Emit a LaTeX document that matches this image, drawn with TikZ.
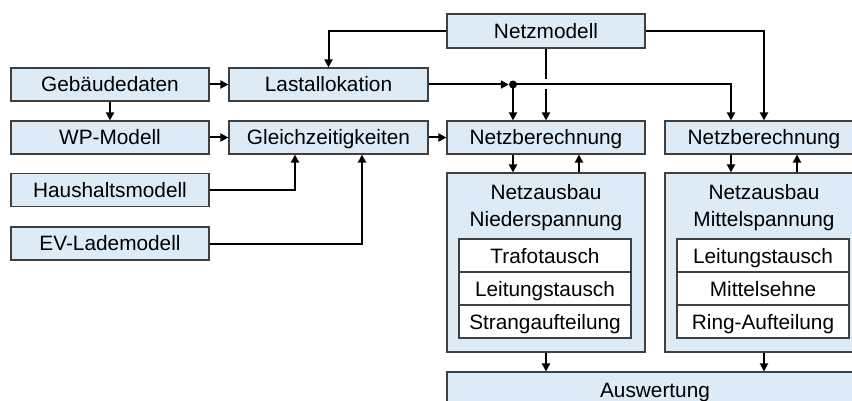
\documentclass[tikz,border=0pt]{standalone}
\usepackage{fontspec}
\setmainfont{Liberation Sans}
\usetikzlibrary{arrows.meta}
\definecolor{boxfill}{HTML}{DDEBF7}
\definecolor{boxline}{HTML}{404040}
\tikzset{
  txt/.style={font=\fontsize{20.8}{24}\selectfont, text height=18pt, text depth=3pt},
  blk/.style={txt, draw=boxline, line width=1.2pt, fill=boxfill, rectangle, inner sep=0pt,
    minimum width=198pt, minimum height=33pt},
  inbox/.style={txt, draw=boxline, line width=1.2pt, fill=white, rectangle, inner sep=0pt,
    minimum width=172pt, minimum height=33pt},
  ttl/.style={txt, inner sep=0pt},
  arr/.style={line width=2pt, -{Triangle[length=8pt,width=8pt]}},
  ln/.style={line width=2pt},
}
\begin{document}
\begin{tikzpicture}[x=1pt,y=-1pt]
\useasboundingbox (0,0) rectangle (852,401);
\clip (0,0) rectangle (852,401);
% left column
\node[blk] (geb) at (110,84.5) {Gebäudedaten};
\node[blk] (wp) at (110,137.5) {WP-Modell};
\node[blk] (haus) at (110,190) {Haushaltsmodell};
\node[blk] (ev) at (110,243.5) {EV-Lademodell};
% second column
\node[blk, minimum width=199pt] (last) at (328.5,84.5) {Lastallokation};
\node[blk, minimum width=199pt] (gleich) at (328.5,137.5) {Gleichzeitigkeiten};
% right part
\node[blk, minimum height=34pt] (netzm) at (546,31) {Netzmodell};
\node[blk] (nb1) at (546,137.5) {Netzberechnung};
\node[blk] (nb2) at (764,137.5) {Netzberechnung};
\node[blk, minimum height=179pt] (nans) at (546,262.5) {};
\node[blk, minimum height=179pt] (nams) at (764,262.5) {};
\node[ttl] (t1a) at (546,192) {Netzausbau};
\node[ttl] (t1b) at (546,219) {Niederspannung};
\node[ttl] (t2a) at (764,192) {Netzausbau};
\node[ttl] (t2b) at (764,219) {Mittelspannung};
\node[inbox] (n1) at (545,255.5) {Trafotausch};
\node[inbox] (n2) at (545,288.5) {Leitungstausch};
\node[inbox] (n3) at (545,321.5) {Strangaufteilung};
\node[inbox] (m1) at (763,255.5) {Leitungstausch};
\node[inbox] (m2) at (763,288.5) {Mittelsehne};
\node[inbox] (m3) at (763,321.5) {Ring-Aufteilung};
\node[blk, minimum width=416pt] (ausw) at (655,388.5) {};
\node[ttl] (auswt) at (655,390) {Auswertung};
% junction
\node[circle, fill=black, inner sep=0pt, minimum size=8pt] (dot) at (513,84.5) {};
% helper coordinates
\coordinate (hx) at (295,0);
\coordinate (ex) at (362,0);
\coordinate (jx) at (731,0);
\coordinate (g1) at (546,79.5);
\coordinate (g2) at (546,89.5);
\coordinate (d1) at (513,0);
\coordinate (u1) at (579,0);
\coordinate (d2) at (731,0);
\coordinate (u2) at (797,0);
% connectors
\draw[arr] (geb.east) -- (last.west);
\draw[arr] (geb.south) -- (wp.north);
\draw[arr] (wp.east) -- (gleich.west);
\draw[arr] (gleich.east) -- (nb1.west);
\draw[arr] (haus.east) -| (hx |- gleich.south);
\draw[arr] (ev.east) -| (ex |- gleich.south);
\draw[arr] (netzm.west) -| (last.north);
\draw[arr] (netzm.east) -| (nb2.north);
\draw[arr] (last.east) -- (dot.west);
\draw[arr] (dot.center) -- (dot |- nb1.north);
\draw[arr] (dot.center) -| (jx |- nb2.north);
\draw[ln] (netzm.south) -- (g1);
\draw[arr] (g2) -- (g2 |- nb1.north);
\draw[arr] (d1 |- nb1.south) -- (d1 |- nans.north);
\draw[arr] (u1 |- nans.north) -- (u1 |- nb1.south);
\draw[arr] (d2 |- nb2.south) -- (d2 |- nams.north);
\draw[arr] (u2 |- nams.north) -- (u2 |- nb2.south);
\draw[arr] (nans.south) -- (nans.south |- ausw.north);
\draw[arr] (nams.south) -- (nams.south |- ausw.north);
\end{tikzpicture}
\end{document}
